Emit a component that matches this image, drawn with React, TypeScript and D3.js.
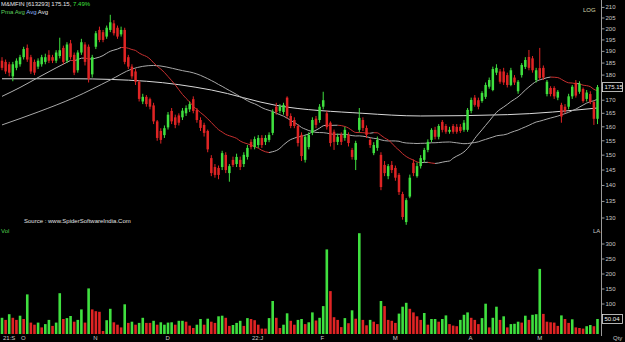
import React from "react";
import * as d3 from "d3";

const W = 625;
const H = 342;

// ---- price data (daily candles, Sep-2021 .. May-2022) ----
const opens = [
  186, 185.5, 184.5, 179.5, 183, 184.5, 187.5, 191.5, 187.5, 185.5,
  183.5, 184.5, 185.5, 188.5, 187.5, 186, 188, 191.5, 186, 193.5,
  188.5, 182, 189.5, 193, 192, 180.3, 192, 199.5, 198.5, 196.5,
  199.5, 202.5, 200.5, 197.5, 199.5, 187.5, 183.5, 181.5, 177.3, 169.5,
  171.3, 170.4, 168, 162, 158.5, 157, 159.8, 165.9, 163.5, 164.2,
  163.5, 165, 166.5, 170.4, 166.3, 162.5, 160.7, 158.5, 149, 146,
  145.7, 146, 150.1, 144, 148.4, 147, 148.4, 147, 149.4, 154.6,
  152.8, 153.5, 156, 154.6, 155.3, 157.8, 167.5, 165.9, 165.5, 171,
  164, 162.5, 160.3, 157.1, 148.4, 152.8, 157.8, 163, 162.5, 167.5,
  165, 161.5, 158.2, 154.6, 157.1, 156, 157.1, 151.8, 148.4, 158.9,
  162.5, 159.6, 155.3, 150.7, 152.5, 150.1, 146.7, 143, 146.7, 145.7,
  143.4, 137.3, 128.8, 136.5, 147.4, 143, 146.3, 148.4, 151.8, 155.3,
  158.9, 156.4, 161.8, 160.3, 158.2, 160.3, 160, 160, 158.9, 158.9,
  165.9, 171, 170, 169.7, 171.3, 175.3, 174, 181, 181.5, 181.5,
  180, 176, 179, 173.5, 180, 183.4, 187.6, 187, 178, 182.9,
  183, 172.4, 174.8, 174.8, 171, 168.2, 167.5, 167.5, 171.5, 176.9,
  173.3, 174.4, 170.5, 172.4, 169.3, 162.95,
];
const closes = [
  183, 181.5, 181, 184.5, 186, 187.5, 191, 186.5, 181.5, 181,
  186, 187.5, 187.5, 186, 186, 189.5, 190.5, 185.5, 193, 187.5,
  181, 189.5, 194, 185.5, 178.5, 187.5, 198, 195, 195, 200.5,
  203, 198, 196.5, 199.5, 185.5, 183.5, 179.5, 177.3, 170.5, 171.3,
  168.5, 167.5, 162, 156, 155.3, 159.5, 164.5, 162, 160.7, 161.5,
  166, 167, 168.5, 165.9, 162.5, 159.6, 157.8, 152, 144, 143.4,
  143.4, 150.7, 145, 146.3, 146.7, 149.4, 146, 150.1, 152.5, 152.8,
  155.6, 156, 153.5, 156, 157.1, 165.5, 165.5, 167.5, 168.2, 164,
  160.3, 160.3, 154.2, 149.7, 156.4, 157.1, 162.5, 160.7, 167.5, 170,
  159.9, 154.2, 154.6, 156.4, 154.6, 158.9, 154.2, 149.4, 154.2, 163.3,
  159.6, 157.1, 153.5, 153.5, 155.3, 139.5, 144, 146.3, 145, 142.5,
  137.9, 130.3, 135.4, 142.5, 144, 146.3, 149, 151.8, 154.6, 158.9,
  156.4, 160.3, 158.9, 158.2, 158.9, 158.2, 158.2, 158.5, 161.5, 166.3,
  170.1, 168.2, 167.5, 172.8, 176, 178, 182.5, 183, 177.3, 177,
  176, 182, 177, 177.3, 184.2, 186.3, 183, 182, 182, 178.8,
  179, 177.3, 172.4, 171.5, 173.3, 163.8, 165.8, 171.5, 175.3, 171.8,
  176.5, 169.7, 173, 169.3, 162.95, 175.15,
];
const highs = [
  187.5, 186.5, 185.5, 185.5, 187, 188.5, 192, 193, 188.5, 186.5,
  187, 188.5, 189, 190.5, 188.5, 190.5, 196, 192.5, 194, 195,
  189.5, 190.5, 195.5, 194, 193, 188.5, 199, 201, 199.5, 201.5,
  206.5, 204, 201.5, 201, 200.5, 188.5, 184.5, 182.5, 178, 172.5,
  172, 171, 169, 162.5, 159.5, 160.5, 165.5, 167, 164.5, 165,
  167, 168, 169.5, 171.5, 167, 163.5, 161.5, 159, 150, 147,
  146.5, 151.5, 151, 147, 149.5, 150.5, 149.5, 151, 153.5, 155.5,
  156.5, 157, 157, 157, 158, 166.5, 169, 168.5, 169, 171.5,
  165, 163.5, 161, 158, 157, 158, 163.5, 164, 168.5, 173.3,
  166, 162, 159, 157.5, 158, 160, 158, 152.5, 155, 167,
  163.5, 160.5, 156, 154.5, 156.5, 151, 148, 147, 148, 146.5,
  144, 138, 136, 143.5, 148.5, 147.5, 150, 152.5, 155.5, 159.5,
  160, 161, 162.5, 161, 160, 161, 161, 161, 162.5, 167,
  171, 172, 171, 173.5, 177, 179, 183.5, 184.5, 182.5, 183,
  181, 183, 180, 178, 185, 187.5, 190.6, 188, 183, 191.5,
  184, 178, 175.5, 175.5, 174, 169, 168.5, 172.5, 176, 178,
  177.5, 175, 174, 173.5, 170, 176,
];
const lows = [
  182, 180.5, 179.5, 177.5, 182, 183.5, 186.5, 185.5, 180.5, 180,
  182.5, 183.5, 184.5, 185, 185, 185, 187, 184.5, 185, 186.5,
  180, 181, 188.5, 184, 177, 179, 191, 194, 194, 195.5,
  198.5, 197, 195.5, 196.5, 184.5, 182.5, 178.5, 176, 169.5, 168.5,
  167.5, 166.5, 161, 155, 154, 156, 159, 161, 159.5, 160.5,
  162.5, 164, 165.5, 165, 161.5, 158.5, 156.5, 151, 143, 142.5,
  142, 145, 144, 141.2, 146, 146, 145, 146, 148.5, 152,
  152, 152.5, 152.5, 153.5, 154.5, 157, 164.5, 165, 164.5, 163,
  159.5, 159.5, 153, 148, 147.5, 152, 157, 159.5, 161.5, 166.5,
  159, 153, 151.8, 153.5, 153.5, 155, 153, 148.5, 145, 158,
  158.5, 156, 152.5, 150, 151.5, 138.5, 143, 142, 144, 141.5,
  137, 129.5, 128, 136, 143, 142.5, 145.5, 147.5, 151, 154.5,
  155.5, 155.5, 158, 157.5, 157.5, 157.5, 157.5, 157.8, 158.2, 158.2,
  165, 167.5, 166.5, 169, 170.5, 174.5, 173.5, 180, 176.5, 176,
  175, 175.5, 176, 172.5, 179, 182.5, 182, 181, 177, 178,
  178, 171.5, 171.5, 170.5, 170, 161.5, 165, 166.5, 170.5, 171,
  172.5, 169, 169.5, 168.5, 160.7, 161,
];
// volume in lakh shares
const volumes = [
  54, 47, 66, 54, 47, 61, 50, 132, 38, 31,
  38, 22, 33, 47, 27, 38, 136, 50, 53, 60,
  41, 47, 82, 38, 152, 82, 76, 74, 10, 46,
  84, 39, 31, 22, 99, 37, 41, 31, 37, 54,
  37, 37, 44, 31, 39, 31, 38, 39, 31, 44,
  44, 41, 28, 20, 31, 50, 31, 51, 41, 37,
  59, 61, 54, 27, 30, 37, 44, 27, 53, 50,
  46, 31, 18, 18, 53, 110, 54, 20, 31, 69,
  44, 31, 47, 50, 33, 39, 72, 45, 54, 93,
  282, 143, 56, 47, 23, 53, 36, 79, 51, 336,
  47, 29, 47, 41, 33, 110, 93, 47, 44, 37,
  68, 91, 104, 84, 72, 59, 47, 70, 31, 50,
  50, 41, 50, 62, 33, 28, 26, 47, 64, 72,
  54, 47, 33, 53, 101, 22, 54, 91, 47, 59,
  22, 33, 34, 41, 38, 61, 47, 64, 66, 217,
  67, 41, 39, 38, 27, 62, 50, 37, 49, 22,
  20, 18, 26, 30, 26, 50.04,
];
// volume bar direction as printed (1 = up day, 0 = down day)
const volUp = [
  1, 0, 1, 0, 0, 1, 0, 1, 0, 0,
  1, 0, 1, 1, 0, 1, 1, 0, 1, 1,
  0, 1, 1, 0, 1, 0, 0, 0, 0, 1,
  1, 0, 0, 0, 1, 0, 1, 0, 1, 1,
  0, 0, 1, 0, 1, 1, 1, 1, 0, 1,
  1, 0, 0, 0, 1, 1, 0, 1, 0, 0,
  1, 1, 0, 0, 1, 1, 1, 0, 1, 0,
  0, 0, 0, 0, 1, 1, 0, 0, 1, 1,
  0, 0, 1, 1, 0, 1, 1, 0, 1, 1,
  1, 0, 0, 0, 0, 1, 0, 1, 0, 1,
  0, 0, 1, 0, 0, 1, 0, 0, 0, 0,
  1, 1, 1, 0, 0, 0, 0, 1, 0, 1,
  1, 0, 1, 1, 0, 0, 0, 1, 1, 1,
  0, 0, 0, 1, 1, 0, 1, 1, 0, 1,
  0, 1, 1, 1, 0, 1, 0, 1, 1, 1,
  0, 0, 0, 0, 0, 1, 0, 0, 1, 0,
  0, 0, 1, 1, 0, 1,
];

// moving averages: 20-day (computed from closes, lead),
// 50-day (computed, lead), 200-day
const ma20LeadIdx = [0, 5, 10, 15];
const ma20LeadVal = [171.5, 175, 179, 183];
const ma50LeadIdx = [0, 10, 20, 30, 36, 42];
const ma50LeadVal = [160.7, 165.5, 171, 178, 182.5, 184];
const ma200Idx = [0, 20, 40, 58, 76, 100, 116, 140, 165];
const ma200Val = [178.5, 178.5, 177.5, 174, 168, 165, 164, 164.5, 167];

const monthLabels = ["21:S", "O", "N", "D", "22:J", "F", "M", "A", "M"];
const monthIdx = [0, 5, 25, 45, 69, 88, 108, 129, 148];
const priceTicks = [130, 135, 140, 145, 150, 155, 160, 165, 170, 175, 180, 185, 190, 195, 200, 205, 210];
const volTicks = [100, 150, 200, 250, 300];

const GREEN = "#3fe03f";
const RED = "#e02424";
const FONT = "Liberation Sans, Arial, sans-serif";

type P = [number, number];

export default function App() {
  const n = closes.length;
  const x = d3.scaleLinear().domain([0, n - 1]).range([2, 597.5]);
  const y = d3.scaleLog().domain([130, 205]).range([218, 18]);
  const yv = d3.scaleLinear().domain([0, 300]).range([334, 244]);
  const axisX = 601.5;

  const sma = (len: number, i: number) =>
    d3.mean(closes.slice(i - len + 1, i + 1)) as number;

  const ma20Pts: P[] = ma20LeadIdx.map((k, j) => [k, ma20LeadVal[j]] as P);
  for (let i = 19; i < n; i++) ma20Pts.push([i, sma(20, i)]);
  const ma50Pts: P[] = ma50LeadIdx.map((k, j) => [k, ma50LeadVal[j]] as P);
  for (let i = 49; i < n; i++) ma50Pts.push([i, sma(50, i)]);
  const ma200Pts: P[] = ma200Idx.map((k, j) => [k, ma200Val[j]] as P);

  const line = d3
    .line<P>()
    .x((d) => x(d[0]))
    .y((d) => y(d[1]))
    .curve(d3.curveMonotoneX);

  // split 20MA into rising (grey) / falling (red) runs
  const runs: { pts: P[]; up: boolean }[] = [];
  for (let i = 1; i < ma20Pts.length; i++) {
    const up = ma20Pts[i][1] >= ma20Pts[i - 1][1];
    const last = runs[runs.length - 1];
    if (last && last.up === up) last.pts.push(ma20Pts[i]);
    else runs.push({ pts: [ma20Pts[i - 1], ma20Pts[i]], up });
  }

  const bodyW = 2.5;
  const volW = 2.6;
  const lastY = y(closes[n - 1]);

  return (
    <svg
      width={W}
      height={H}
      style={{ position: "absolute", left: 0, top: 0, background: "#000" }}
      fontFamily={FONT}
    >
      <rect x={0} y={0} width={W} height={H} fill="#000" />

      {/* moving averages */}
      <path d={line(ma200Pts) || ""} fill="none" stroke="#d8d8d8" strokeWidth={1} />
      <path d={line(ma50Pts) || ""} fill="none" stroke="#a8a8a8" strokeWidth={1} />
      {runs.map((r, i) => (
        <path
          key={"r" + i}
          d={line(r.pts) || ""}
          fill="none"
          stroke={r.up ? "#b0b0b0" : "#c83030"}
          strokeWidth={1}
        />
      ))}

      {/* candles */}
      {closes.map((c, i) => {
        const o = opens[i];
        const up = c >= o;
        const col = up ? GREEN : RED;
        const top = y(Math.max(o, c));
        const bot = y(Math.min(o, c));
        return (
          <g key={"c" + i}>
            <line x1={x(i)} x2={x(i)} y1={y(highs[i])} y2={y(lows[i])} stroke={col} strokeWidth={1} />
            <rect x={x(i) - bodyW / 2} y={top} width={bodyW} height={Math.max(1, bot - top)} fill={col} />
          </g>
        );
      })}

      {/* volume */}
      {volumes.map((v, i) => (
        <rect
          key={"v" + i}
          x={x(i) - volW / 2}
          y={yv(v)}
          width={volW}
          height={yv(0) - yv(v)}
          fill={volUp[i] ? GREEN : RED}
        />
      ))}

      {/* right axis */}
      <line x1={axisX} x2={axisX} y1={0} y2={336} stroke="#9a9a9a" strokeWidth={1} />
      {priceTicks.map((t) => (
        <g key={"pt" + t}>
          <line x1={axisX} x2={axisX + 3} y1={y(t)} y2={y(t)} stroke="#9a9a9a" />
          {Math.abs(y(t) - lastY) > 6 && (
            <text x={axisX + 4} y={y(t) + 2} fontSize={6} fill="#c8c8c8">
              {t}
            </text>
          )}
        </g>
      ))}
      <text x={583} y={12} fontSize={6} fill="#d9d9b0">LOG</text>
      {/* last price box */}
      <rect x={axisX + 1} y={lastY - 4.5} width={20} height={9} fill="#000" stroke="#e0e0e0" strokeWidth={0.8} />
      <text x={axisX + 3} y={lastY + 2} fontSize={6} fill="#f0f0f0">
        {closes[n - 1].toFixed(2)}
      </text>

      {volTicks.map((t) => (
        <g key={"vt" + t}>
          <line x1={axisX} x2={axisX + 3} y1={yv(t)} y2={yv(t)} stroke="#9a9a9a" />
          <text x={axisX + 4} y={yv(t) + 2} fontSize={6} fill="#c8c8c8">
            {t}
          </text>
        </g>
      ))}
      <rect x={axisX + 1} y={yv(volumes[n - 1]) - 4.5} width={20} height={9} fill="#000" stroke="#e0e0e0" strokeWidth={0.8} />
      <text x={axisX + 3} y={yv(volumes[n - 1]) + 2} fontSize={6} fill="#f0f0f0">
        {volumes[n - 1].toFixed(2)}
      </text>
      <text x={593} y={233} fontSize={6} fill="#c8c8c8">LA</text>
      <text x={613} y={340} fontSize={6} fill="#c8c8c8">Qty</text>

      {/* bottom month labels */}
      {monthLabels.map((m, j) => (
        <text key={"m" + j} x={x(monthIdx[j]) + 1} y={340} fontSize={6} fill="#c8c8c8">
          {m}
        </text>
      ))}

      {/* texts */}
      <text x={1} y={6} fontSize={6} fill="#e8e8e8">
        M&amp;MFIN [613293] 175.15, <tspan fill={GREEN}>7.49%</tspan>
      </text>
      <text x={1} y={14} fontSize={6}>
        <tspan fill="#5fd35f">Pma</tspan>
        <tspan fill="#5fd35f">{" Avg"}</tspan>
        <tspan fill="#8fb8ff">{" Avg"}</tspan>
        <tspan fill="#e8e8e8">{" Avg"}</tspan>
      </text>
      <text x={24} y={223} fontSize={6} fill="#e0e0e0">
        Source : www.SpiderSoftwareIndia.Com
      </text>
      <text x={1} y={233} fontSize={6} fill="#4fd04f">Vol</text>
    </svg>
  );
}
